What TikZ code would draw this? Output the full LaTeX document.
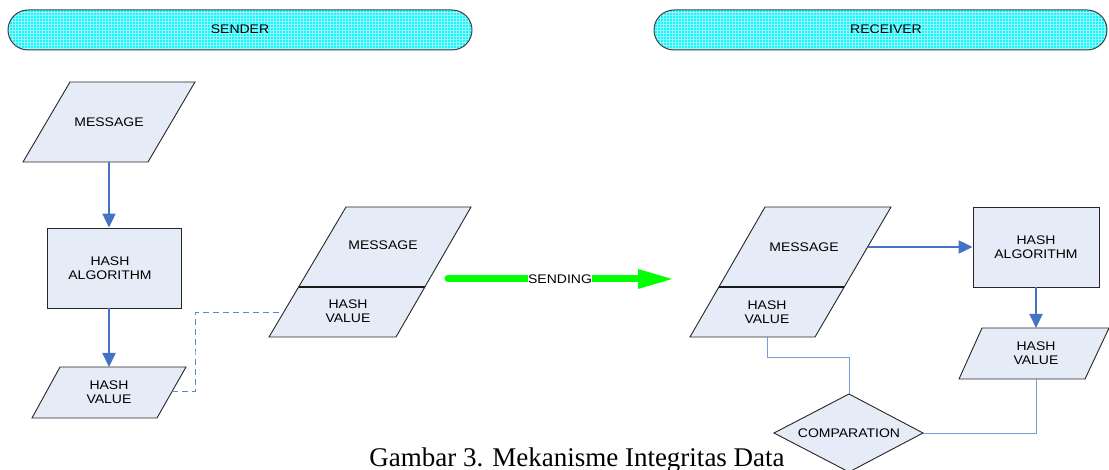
\documentclass[tikz,border=0pt]{standalone}
\usepackage{fontspec}
\setmainfont[FakeStretch=1.12]{Liberation Sans}
\newfontfamily\capfont{Liberation Serif}
\usetikzlibrary{arrows.meta,calc}
\definecolor{boxfill}{RGB}{230,236,247}
\definecolor{arrowblue}{RGB}{68,114,196}
\definecolor{lineblue}{RGB}{120,155,215}
\definecolor{dashblue}{RGB}{90,134,208}
\definecolor{bannercyan}{RGB}{0,255,255}
\definecolor{gridcyan}{RGB}{165,242,250}
\definecolor{sendgreen}{RGB}{0,255,0}
\tikzset{
  shapebox/.style={draw=black!85, fill=boxfill, line width=0.9pt, line join=miter},
  lbl/.style={font=\fontsize{12.5}{14}\selectfont, align=center, inner sep=0pt},
  flow/.style={draw=arrowblue, line width=2.2pt, -{Triangle[length=14pt,width=13pt]}},
  conn/.style={draw=lineblue, line width=1pt},
  dconn/.style={draw=dashblue, line width=1pt, dash pattern=on 6pt off 4pt},
  rectbox/.style={shapebox, minimum width=134pt, minimum height=80pt, lbl},
  banner/.style={draw=black!75, line width=1pt, rounded corners=20pt},
}
\begin{document}
\begin{tikzpicture}[x=1pt,y=-1pt]
\useasboundingbox (0,0) rectangle (1109,470);
% banners
\begin{scope}
  \clip[rounded corners=20pt] (8,10) rectangle (472,50);
  \fill[bannercyan] (8,10) rectangle (472,50);
  \draw[gridcyan, line width=0.4pt, step=3pt] (8,10) grid (472,50);
\end{scope}
\draw[banner] (8,10) rectangle (472,50);
\node[lbl] (sender) at (240,29) {SENDER};
\begin{scope}
  \clip[rounded corners=20pt] (654,10) rectangle (1107,50);
  \fill[bannercyan] (654,10) rectangle (1107,50);
  \draw[gridcyan, line width=0.4pt, step=3pt] (654,10) grid (1107,50);
\end{scope}
\draw[banner] (654,10) rectangle (1107,50);
\node[lbl] (receiver) at (886,29) {RECEIVER};

% sender message
\draw[shapebox] (70,82) -- (195,82) -- (148,162) -- (23,162) -- cycle;
\node[lbl] (msg1) at (109,122) {MESSAGE};
\coordinate (msg1b) at (109,162);
% sender hash algorithm
\node[rectbox] (alg1) at (114,268) {};
\node[lbl] (alg1t) at (110,268) {HASH\\ALGORITHM};
% sender hash value
\draw[shapebox] (60,367) -- (186,367) -- (157,418) -- (32,418) -- cycle;
\node[lbl] (hv1) at (109,392) {HASH\\VALUE};
\coordinate (hv1t) at (109,367);
\coordinate (hv1r) at (172,392);

\draw[flow] (msg1b) -- (msg1b |- alg1.north);
\draw[flow] (hv1t |- alg1.south) -- (hv1t);

% middle combined
\draw[shapebox] (346,207) -- (471,207) -- (396,337) -- (269,337) -- cycle;
\draw[black!90, line width=2pt] (299,287) -- (425,287);
\node[lbl] (msg2) at (383,245) {MESSAGE};
\node[lbl] (hv2) at (348,311) {HASH\\VALUE};
\coordinate (hv2l) at (283,313);
\draw[dconn] (hv1r) -| (195,352) |- (hv2l);

% sending arrow
\coordinate (sendA) at (448,279);
\coordinate (sendB) at (672,279);
\coordinate (sendH) at ($(sendB)+(-34,0)$);
\draw[draw=sendgreen, line width=7pt, line cap=round] (sendA) -- ($(sendH)+(1,0)$);
\fill[sendgreen] (sendB) -- ($(sendH)+(0,-10)$) -- ($(sendH)+(0,10)$) -- cycle;
\node[lbl, fill=white, inner sep=0.5pt] (sending) at ($(sendA)!0.5!(sendB)$) {SENDING};

% receiver combined
\draw[shapebox] (765,207) -- (891,207) -- (815,337) -- (690,337) -- cycle;
\draw[black!90, line width=2pt] (719,287) -- (844,287);
\node[lbl] (msg3) at (804,247) {MESSAGE};
\node[lbl] (hv3) at (767,312) {HASH\\VALUE};
\coordinate (msg3r) at (868,247);
\coordinate (hv3b) at (767,337);

% receiver hash algorithm
\node[rectbox, minimum width=126pt] (alg2) at (1036,247) {HASH\\ALGORITHM};
\draw[flow] (msg3r) -- (alg2.west);

% receiver hash value
\draw[shapebox] (982,328) -- (1109,328) -- (1085,379) -- (959,379) -- cycle;
\node[lbl] (hv4) at (1036,353) {HASH\\VALUE};
\coordinate (hv4t) at (1036,328);
\coordinate (hv4b) at (1036,379);
\draw[flow] (alg2.south) -- (hv4t);

% comparation
\draw[shapebox] (774,433) -- (849,394) -- (923,433) -- (849,472) -- cycle;
\node[lbl] (cmp) at (849,433) {COMPARATION};
\coordinate (cmpt) at (849,394);
\coordinate (cmpr) at (923,433);
\draw[conn] (hv3b) -- ++(0,21) -| (cmpt);
\draw[conn] (hv4b) |- (cmpr);

% caption
\node[font=\capfont\fontsize{27}{30}\selectfont, anchor=base, inner sep=0pt] (caption) at (577,466) {Gambar 3. Mekanisme Integritas Data};
\end{tikzpicture}
\end{document}
